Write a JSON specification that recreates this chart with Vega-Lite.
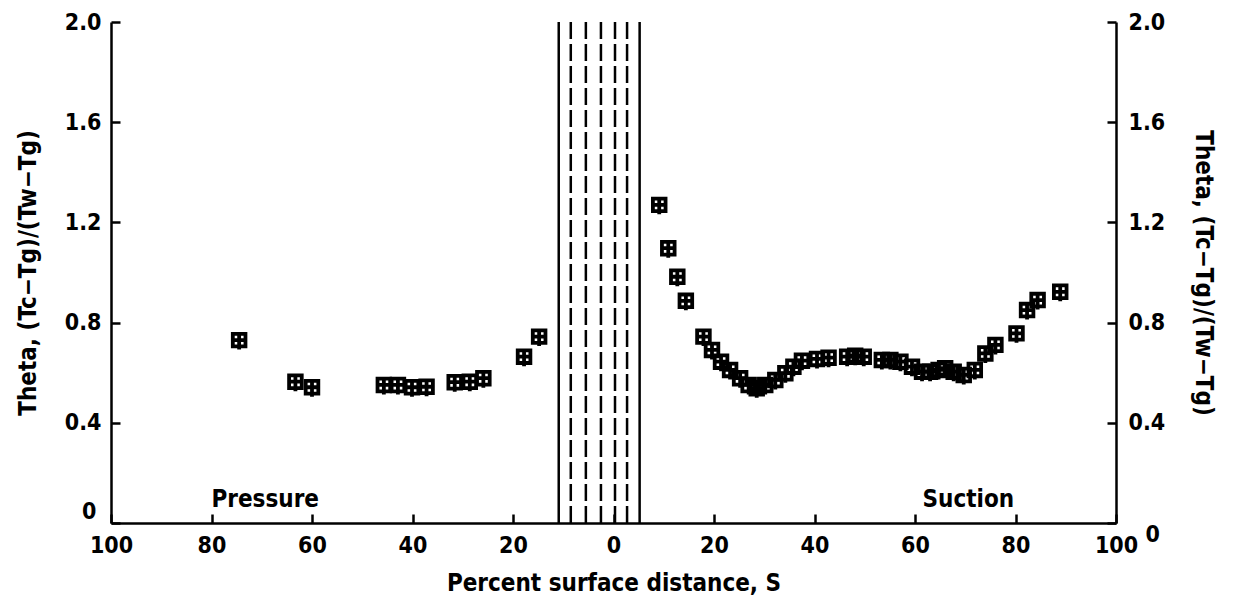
{
  "$schema": "https://vega.github.io/schema/vega-lite/v6.json",
  "autosize": "none",
  "width": 1005,
  "height": 501,
  "padding": {"left": 111, "top": 22, "right": 124, "bottom": 88},
  "background": "white",
  "config": {
    "view": {"stroke": null},
    "font": "DejaVu Sans Condensed",
    "axis": {
      "grid": false,
      "domainColor": "black",
      "domainWidth": 2.5,
      "tickColor": "black",
      "tickWidth": 2.5,
      "tickSize": -9,
      "labelColor": "black",
      "labelFont": "DejaVu Sans Condensed",
      "labelFontWeight": "bold",
      "labelFontSize": 23,
      "titleColor": "black",
      "titleFont": "DejaVu Sans Condensed",
      "titleFontWeight": "bold",
      "titleFontSize": 24
    }
  },
  "datasets": {
    "pts": [
      {"s": -74.5, "theta": 0.730},
      {"s": -63.3, "theta": 0.564},
      {"s": -60.0, "theta": 0.542},
      {"s": -45.7, "theta": 0.551},
      {"s": -42.9, "theta": 0.551},
      {"s": -40.1, "theta": 0.542},
      {"s": -37.2, "theta": 0.544},
      {"s": -31.6, "theta": 0.562},
      {"s": -28.6, "theta": 0.564},
      {"s": -25.9, "theta": 0.578},
      {"s": -17.8, "theta": 0.664},
      {"s": -14.8, "theta": 0.744},
      {"s": 9.1, "theta": 1.27},
      {"s": 10.9, "theta": 1.097},
      {"s": 12.7, "theta": 0.983},
      {"s": 14.4, "theta": 0.887},
      {"s": 17.9, "theta": 0.744},
      {"s": 19.6, "theta": 0.691},
      {"s": 21.4, "theta": 0.644},
      {"s": 23.2, "theta": 0.611},
      {"s": 25.2, "theta": 0.578},
      {"s": 26.9, "theta": 0.551},
      {"s": 28.5, "theta": 0.538},
      {"s": 30.2, "theta": 0.551},
      {"s": 32.2, "theta": 0.571},
      {"s": 34.2, "theta": 0.598},
      {"s": 35.8, "theta": 0.624},
      {"s": 37.5, "theta": 0.648},
      {"s": 40.5, "theta": 0.655},
      {"s": 42.8, "theta": 0.660},
      {"s": 46.5, "theta": 0.664},
      {"s": 48.1, "theta": 0.668},
      {"s": 49.8, "theta": 0.664},
      {"s": 53.4, "theta": 0.651},
      {"s": 55.1, "theta": 0.651},
      {"s": 57.1, "theta": 0.644},
      {"s": 59.4, "theta": 0.624},
      {"s": 61.4, "theta": 0.604},
      {"s": 63.0, "theta": 0.604},
      {"s": 64.7, "theta": 0.611},
      {"s": 66.0, "theta": 0.618},
      {"s": 67.7, "theta": 0.604},
      {"s": 69.7, "theta": 0.591},
      {"s": 71.9, "theta": 0.611},
      {"s": 74.0, "theta": 0.677},
      {"s": 76.0, "theta": 0.711},
      {"s": 80.2, "theta": 0.757},
      {"s": 82.3, "theta": 0.850},
      {"s": 84.4, "theta": 0.890},
      {"s": 88.9, "theta": 0.923}
    ],
    "solid": [{"s": -10.9}, {"s": 5.2}],
    "dashed": [{"s": -8.5}, {"s": -5.5}, {"s": -2.5}, {"s": 0.3}, {"s": 2.7}],
    "labels": [
      {"s": -80, "theta": 0.065, "label": "Pressure"},
      {"s": 61.5, "theta": 0.065, "label": "Suction"}
    ]
  },
  "layer": [
    {
      "data": {"name": "solid"},
      "mark": {"type": "rule", "color": "black", "strokeWidth": 2.5},
      "encoding": {
        "x": {"field": "s", "type": "quantitative", "scale": {"domain": [-100, 100], "nice": false}}
      }
    },
    {
      "data": {"name": "dashed"},
      "mark": {"type": "rule", "color": "black", "strokeWidth": 2.5, "strokeDash": [17, 5]},
      "encoding": {
        "x": {"field": "s", "type": "quantitative"}
      }
    },
    {
      "data": {"name": "pts"},
      "mark": {
        "type": "point",
        "shape": "M-1,-1H1V1H-1Z M0,-1V1.5 M-1,0H1",
        "filled": false,
        "stroke": "black",
        "strokeWidth": 3.8,
        "size": 160,
        "opacity": 1
      },
      "encoding": {
        "x": {
          "field": "s", "type": "quantitative",
          "scale": {"domain": [-100, 100], "nice": false},
          "axis": {
            "values": [-100, -80, -60, -40, -20, 0, 20, 40, 60, 80, 100],
            "labelExpr": "abs(datum.value)",
            "labelPadding": 20,
            "labelFlush": false,
            "title": "Percent surface distance, S",
            "titlePadding": 14
          }
        },
        "y": {
          "field": "theta", "type": "quantitative",
          "scale": {"domain": [0, 2], "nice": false},
          "axis": {
            "orient": "left",
            "values": [0, 0.4, 0.8, 1.2, 1.6, 2.0],
            "labelExpr": "datum.value == 0 ? '0' : format(datum.value, '.1f')",
            "labelPadding": {"condition": {"test": "datum.value == 0", "value": 24}, "value": 19},
            "labelBaseline": {"condition": {"test": "datum.value == 0", "value": "bottom"}, "value": "middle"},
            "labelFlush": false,
            "title": "Theta, (Tc−Tg)/(Tw−Tg)",
            "titlePadding": 24
          }
        }
      }
    },
    {
      "data": {"name": "labels"},
      "mark": {
        "type": "text",
        "align": "left",
        "baseline": "alphabetic",
        "font": "DejaVu Sans Condensed",
        "fontWeight": "bold",
        "fontSize": 24,
        "color": "black"
      },
      "encoding": {
        "x": {"field": "s", "type": "quantitative"},
        "y": {
          "field": "theta", "type": "quantitative",
          "scale": {"domain": [0, 2], "nice": false},
          "axis": {
            "orient": "right",
            "values": [0, 0.4, 0.8, 1.2, 1.6, 2.0],
            "labelExpr": "datum.value == 0 ? '0' : format(datum.value, '.1f')",
            "labelPadding": {"condition": {"test": "datum.value == 0", "value": 38}, "value": 21},
            "labelBaseline": {"condition": {"test": "datum.value == 0", "value": "top"}, "value": "middle"},
            "labelFlush": false,
            "title": "Theta, (Tc−Tg)/(Tw−Tg)",
            "titlePadding": 26
          }
        },
        "text": {"field": "label"}
      }
    }
  ],
  "resolve": {"scale": {"y": "independent"}, "axis": {"y": "independent"}}
}
